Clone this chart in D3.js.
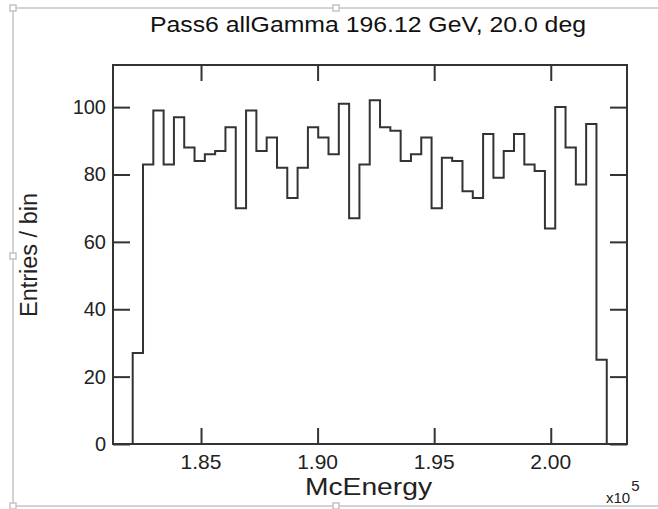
<!DOCTYPE html>
<html>
<head>
<meta charset="utf-8">
<script src="https://cdn.jsdelivr.net/npm/d3@7/dist/d3.min.js"></script>
<style>
  body { margin:0; background:#fff; }
  svg { display:block; font-family:"Liberation Sans", Arial, sans-serif; }
</style>
</head>
<body>
<svg id="chart" width="658" height="509"></svg>
<script>
// histogram contents
var binStart = 182070;
var binWidth = 442;
var counts = [27, 83, 99, 83, 97, 88, 84, 86, 87, 94,
              70, 99, 87, 91, 82, 73, 82, 94, 91, 86,
              101, 67, 83, 102, 94, 93, 84, 86, 91, 70,
              85, 84, 75, 73, 92, 79, 87, 92, 83, 81,
              64, 100, 88, 77, 95, 25];
var xTicks = [185000, 190000, 195000, 200000];
var xTickLabels = ['1.85', '1.90', '1.95', '2.00'];
var yTicks = [0, 20, 40, 60, 80, 100];
var xDomain = [181225, 203270];
var yDomain = [0, 112.5];
var title = 'Pass6 allGamma 196.12 GeV, 20.0 deg';

var svg = d3.select('#chart');
var L = 113, R = 627, T = 65, B = 444;
var ink = '#333';

var x = d3.scaleLinear().domain(xDomain).range([L, R]);
var y = d3.scaleLinear().domain(yDomain).range([B, T]);

// grey selection outline around the figure
var sel = svg.append('g').attr('stroke', '#c4c4c4').attr('stroke-width', 1.5).attr('fill', 'none');
sel.append('line').attr('x1', 13).attr('y1', 8).attr('x2', 658).attr('y2', 8);
sel.append('line').attr('x1', 13).attr('y1', 8).attr('x2', 13).attr('y2', 506);
sel.append('line').attr('x1', 13).attr('y1', 506).attr('x2', 658).attr('y2', 506);
[[13, 8], [336, 8], [13, 256], [13, 506], [336, 506]].forEach(function(h) {
  sel.append('rect').attr('x', h[0] - 3).attr('y', h[1] - 3).attr('width', 6).attr('height', 6)
    .attr('fill', '#fff');
});

// inward ticks on all four sides
var axes = svg.append('g');
axes.append('g').attr('transform', 'translate(0,' + B + ')')
  .call(d3.axisTop(x).tickValues(xTicks).tickSize(16).tickFormat(''));
axes.append('g').attr('transform', 'translate(0,' + T + ')')
  .call(d3.axisBottom(x).tickValues(xTicks).tickSize(16).tickFormat(''));
axes.append('g').attr('transform', 'translate(' + L + ',0)')
  .call(d3.axisRight(y).tickValues(yTicks).tickSize(17).tickFormat(''));
axes.append('g').attr('transform', 'translate(' + R + ',0)')
  .call(d3.axisLeft(y).tickValues(yTicks).tickSize(17).tickFormat(''));
axes.selectAll('.domain').remove();
axes.selectAll('line').attr('stroke', ink).attr('stroke-width', 2);

// tick labels
svg.append('g').selectAll('text').data(xTicks).enter().append('text')
  .attr('x', function(d) { return x(d); })
  .attr('y', 469)
  .attr('text-anchor', 'middle')
  .attr('font-size', 21)
  .attr('fill', '#222')
  .text(function(d, i) { return xTickLabels[i]; });

svg.append('g').selectAll('text').data(yTicks).enter().append('text')
  .attr('x', 106)
  .attr('y', function(d) { return y(d) + 7; })
  .attr('text-anchor', 'end')
  .attr('font-size', 20)
  .attr('fill', '#222')
  .text(function(d) { return d; });

// histogram outline
var pts = [[binStart, 0]];
counts.forEach(function(c, i) {
  pts.push([binStart + i * binWidth, c]);
  pts.push([binStart + (i + 1) * binWidth, c]);
});
pts.push([binStart + counts.length * binWidth, 0]);

svg.append('path')
  .attr('d', d3.line().x(function(d) { return x(d[0]); }).y(function(d) { return y(d[1]); })(pts))
  .attr('fill', 'none')
  .attr('stroke', ink)
  .attr('stroke-width', 2);

// plot frame
svg.append('rect')
  .attr('x', L).attr('y', T).attr('width', R - L).attr('height', B - T)
  .attr('fill', 'none').attr('stroke', ink).attr('stroke-width', 2);

// titles
svg.append('text')
  .attr('x', 150).attr('y', 32)
  .attr('font-size', 22)
  .attr('textLength', 436).attr('lengthAdjust', 'spacingAndGlyphs')
  .attr('fill', '#111')
  .text(title);

svg.append('text')
  .attr('x', 305).attr('y', 495)
  .attr('font-size', 24)
  .attr('textLength', 127).attr('lengthAdjust', 'spacingAndGlyphs')
  .attr('fill', '#222')
  .text('McEnergy');

svg.append('text')
  .attr('transform', 'translate(37,317) rotate(-90)')
  .attr('font-size', 23)
  .attr('textLength', 124).attr('lengthAdjust', 'spacingAndGlyphs')
  .attr('fill', '#222')
  .text('Entries / bin');

var mult = svg.append('text').attr('x', 606).attr('y', 503).attr('fill', '#222');
mult.append('tspan').attr('font-size', 15).text('x10');
mult.append('tspan').attr('font-size', 15).attr('dy', -12).attr('dx', 1).text('5');
</script>
</body>
</html>
